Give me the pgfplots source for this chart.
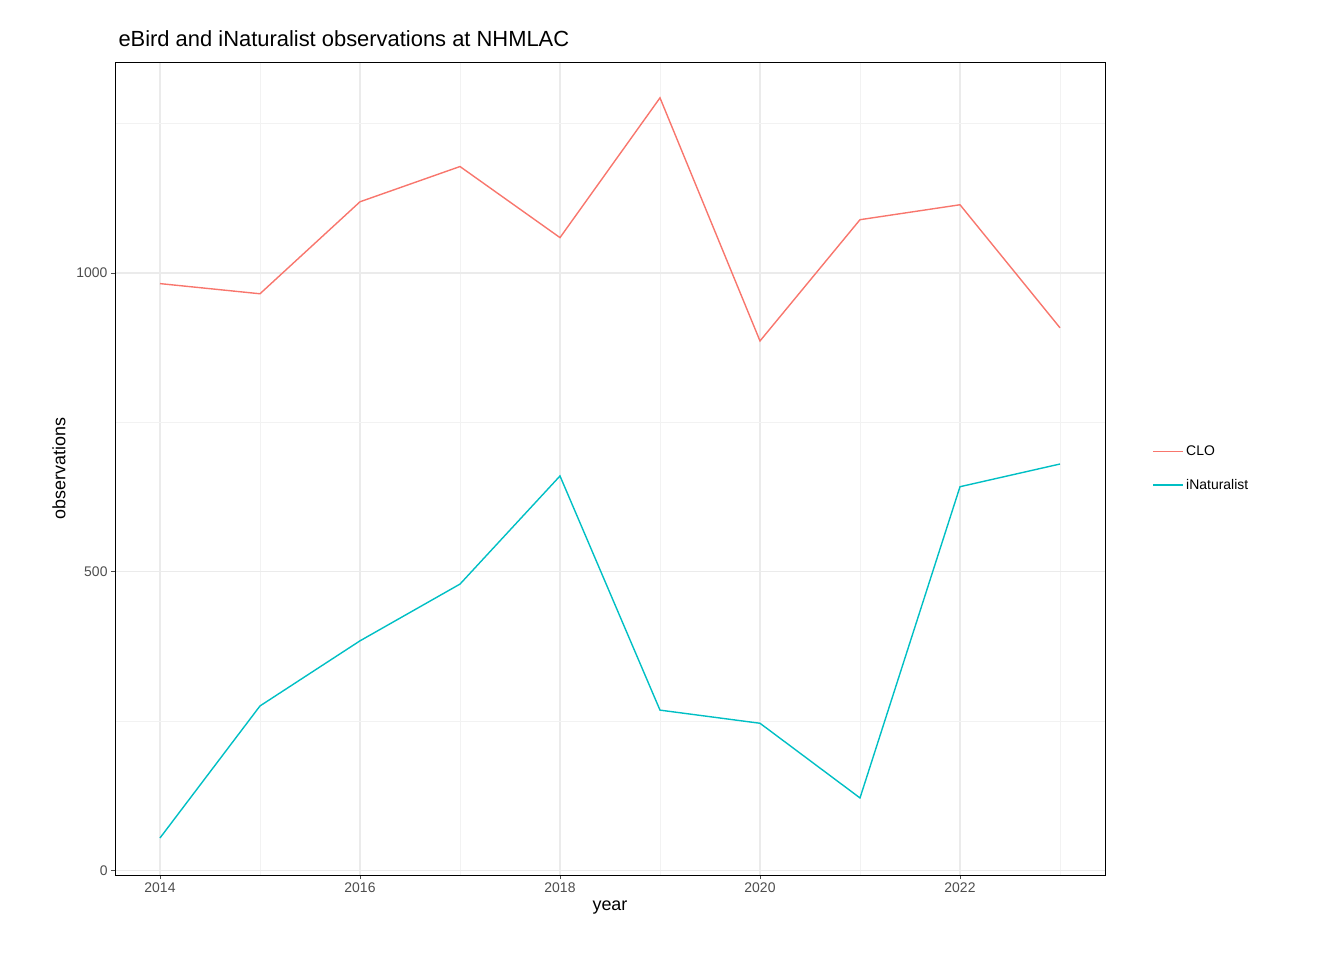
\documentclass[border=0pt]{standalone}
\usepackage{pgfplots}
\pgfplotsset{compat=1.18}
\usepackage{fontspec}
\setmainfont{Liberation Sans}
\definecolor{clo}{HTML}{F8766D}
\definecolor{inat}{HTML}{00BFC4}
\definecolor{tk}{HTML}{4D4D4D}
\definecolor{gmaj}{HTML}{EBEBEB}
\definecolor{gmin}{HTML}{F2F2F2}
\begin{document}
\begin{tikzpicture}
\path (0,0) rectangle (1344bp,960bp);
\begin{axis}[at={(115bp,85bp)},anchor=south west,
scale only axis,width=990bp,height=813bp,
xmin=2013.55,xmax=2023.45,ymin=-8,ymax=1353,
xtick={2014,2016,2018,2020,2022},minor xtick={2015,2017,2019,2021,2023},
ytick={0,500,1000},minor ytick={250,750,1250},
/pgf/number format/1000 sep={},
/pgf/number format/assume math mode=true,
ticklabel style={font=\fontsize{14}{16}\selectfont,text=tk},
grid=both,major grid style={gmaj,line width=1.3bp},minor grid style={gmin,line width=0.7bp},
axis line style={black,line width=0.6bp},
tick style={black!70,line width=0.6bp},tick align=outside,major tick length=4bp,minor tick length=0pt,
xtick pos=bottom,ytick pos=left,
xlabel={year},ylabel={observations},
xlabel style={font=\fontsize{18}{20}\selectfont,yshift=-2bp},
ylabel style={font=\fontsize{18}{20}\selectfont,yshift=4bp},
title={eBird and iNaturalist observations at NHMLAC},
title style={font=\fontsize{22}{24}\selectfont,at={(0,1)},anchor=south west,yshift=6bp},
legend style={draw=none,fill=none,at={(1.045,0.5)},anchor=west,font=\fontsize{14}{16}\selectfont,row sep=18bp},
legend image post style={line width=1.5bp},
legend image code/.code={\draw[#1] (0bp,0bp) -- (30bp,0bp);},
legend cell align=left,
]
\addplot[clo,line width=1.4bp] coordinates {(2014,982)(2015,965)(2016,1119)(2017,1178)(2018,1059)(2019,1293)(2020,886)(2021,1089)(2022,1114)(2023,908)};
\addlegendentry{CLO}
\addplot[inat,line width=1.4bp] coordinates {(2014,54)(2015,275)(2016,384)(2017,479)(2018,660)(2019,268)(2020,246)(2021,121)(2022,642)(2023,680)};
\addlegendentry{iNaturalist}
\end{axis}
\end{tikzpicture}
\end{document}
